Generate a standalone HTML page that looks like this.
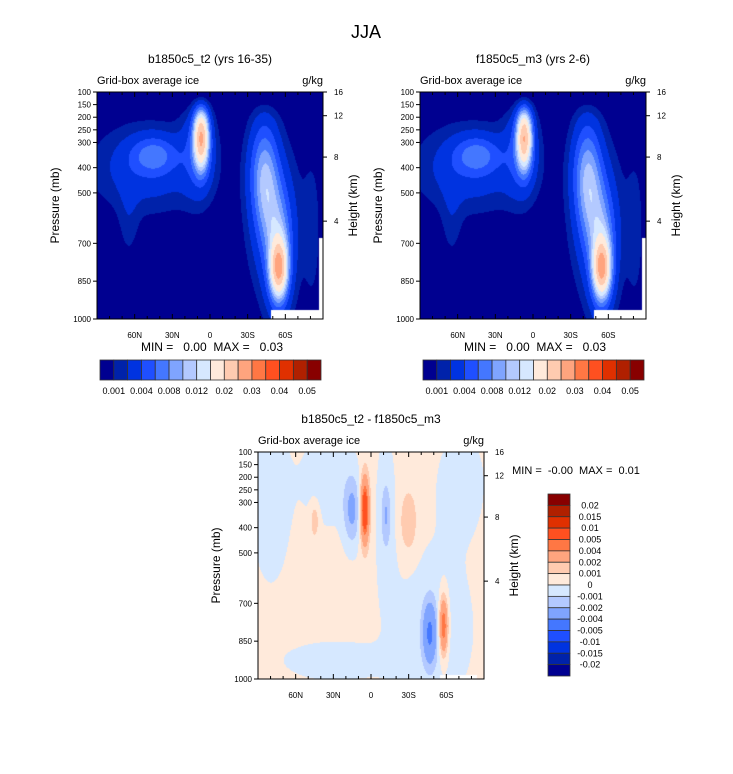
<!DOCTYPE html>
<html><head><meta charset="utf-8"><style>
body{margin:0;background:#fff;}
#wrap{position:relative;width:733px;height:774px;overflow:hidden;background:#fff;font-family:"Liberation Sans",sans-serif;}
canvas{position:absolute;}
svg{position:absolute;left:0;top:0;}
text{white-space:pre;}
</style></head><body>
<div id="wrap">
<canvas id="c1" width="226" height="227" style="left:97px;top:92px"></canvas>
<canvas id="c2" width="226" height="227" style="left:420px;top:92px"></canvas>
<canvas id="c3" width="226" height="227" style="left:258px;top:452px"></canvas>
<svg id="s" width="733" height="774"></svg>
</div>
<script>
// ---- data ----
const iceLevels=[0.001,0.002,0.004,0.006,0.008,0.01,0.012,0.015,0.02,0.025,0.03,0.035,0.04,0.045,0.05];
const iceLabels=["0.001","0.004","0.008","0.012","0.02","0.03","0.04","0.05"];
const iceColors=["#000090","#0022aa","#0033e0","#1f4fff","#4477ff","#7fa4ff","#b3c9ff","#d6e8ff","#ffeadb","#ffcbb0","#ffa47e","#ff7744","#ff5020","#e03000","#b02000","#880000"];
const diffLevels=[-0.02,-0.015,-0.01,-0.005,-0.004,-0.002,-0.001,0,0.001,0.002,0.004,0.005,0.01,0.015,0.02];
const diffLabels=["-0.02","-0.015","-0.01","-0.005","-0.004","-0.002","-0.001","0","0.001","0.002","0.004","0.005","0.01","0.015","0.02"];
const pTicks=[100,150,200,250,300,400,500,700,850,1000];
const hTicks=[4,8,12,16];
const hTickP=[612,358,194,100];
const latTicks=[60,30,0,-30,-60];
const latLabels=["60N","30N","0","30S","60S"];
// ice blobs: lat, p, amplitude(1e-3 g/kg), sigLat, sigP
const iceLat=[50,45,7,9,65,-40,-45,-55,-55,-52,-82];
const iceP=[400,350,280,330,620,400,480,800,720,620,650];
const iceAmp=[3.2,5,22,4,1.2,3,7,20,8,2.5,1.2];
const iceSL=[30,12,4,9,6,8,7,4.5,7,16,5];
const iceSP=[120,50,80,130,120,140,160,75,160,240,220];
const TOPTAPER=[100,230];
// diff blobs
const dLat=[80,35,-12,30,-50,-72,5,15,-12,45,-30,-47,-58];
const dP=[300,200,350,930,800,220,330,330,350,370,380,820,790];
const dAmp=[-0.9,-0.9,-0.9,-0.9,-0.9,-0.9,7,-2.6,-1.6,1.6,1.6,-4,5.5];
const dSL=[12,15,6,30,25,14,2.5,5,2.5,2.5,5,4,2.5];
const dSP=[250,150,250,60,250,150,90,100,80,50,90,90,80];
const DBASE=0.4;

function field(lat,p,L,P,A,SL,SP,base){let v=base;for(let i=0;i<L.length;i++){const a=(lat-L[i])/SL[i],b=(p-P[i])/SP[i];v+=A[i]*Math.exp(-0.5*(a*a+b*b));}return v*0.001;}
function taper(p){const t=Math.min(1,Math.max(0,(p-TOPTAPER[0])/(TOPTAPER[1]-TOPTAPER[0])));return t*(2-t);}
function lvl(v,levels){let k=0;while(k<levels.length&&v>=levels[k])k++;return k;}
function hex(c){return [parseInt(c.substr(1,2),16),parseInt(c.substr(3,2),16),parseInt(c.substr(5,2),16)];}
function drawField(id,L,P,A,SL,SP,base,levels,colors,mask,useTaper){
 const cv=document.getElementById(id),ctx=cv.getContext('2d'),W=cv.width,H=cv.height;
 const img=ctx.createImageData(W,H);const cols=colors.map(hex);
 for(let y=0;y<H;y++){const p=100+y/(H-1)*900;for(let x=0;x<W;x++){const lat=90-x/(W-1)*180;
  let c;if(mask(lat,p))c=[255,255,255];else{let v=field(lat,p,L,P,A,SL,SP,base);if(useTaper)v*=taper(p);c=cols[lvl(v,levels)];}
  const o=(y*W+x)*4;img.data[o]=c[0];img.data[o+1]=c[1];img.data[o+2]=c[2];img.data[o+3]=255;}}
 ctx.putImageData(img,0,0);}
const iceMask=(lat,p)=>(lat<-49&&p>965)||(lat<-87&&p>680);
drawField('c1',iceLat,iceP,iceAmp,iceSL,iceSP,0,iceLevels,iceColors,iceMask,true);
drawField('c2',iceLat,iceP,iceAmp.map((a,i)=>i==2?a*0.95:a),iceSL,iceSP,0,iceLevels,iceColors,iceMask,true);
const dcol=iceColors;
drawField('c3',dLat,dP,dAmp,dSL,dSP,DBASE,diffLevels,dcol,(lat,p)=>lat<-55&&lat>-85&&p>985,false);

// ---- axes ----
const S=document.getElementById('s');const NS="http://www.w3.org/2000/svg";
function el(t,a,txt){const e=document.createElementNS(NS,t);for(const k in a)e.setAttribute(k,a[k]);if(txt!==undefined)e.textContent=txt;S.appendChild(e);return e;}
function text(x,y,s,size,anchor,name,extra){const e=el('text',Object.assign({x:x,y:y,'font-size':size,'text-anchor':anchor||'start','font-family':'Liberation Sans, sans-serif',fill:'#000'},extra||{}),s);
 
 return e;}
function panel(L,T,W,H,title,pre){
 const xOf=lat=>L+(90-lat)/180*W, yOf=p=>T+(p-100)/900*H;
 const r=el('rect',{x:L,y:T,width:W,height:H,fill:'none',stroke:'#000','stroke-width':1});
 
 
 text(L+W/2,T-29,title,12,'middle',pre+'-title');
 text(L,T-8,'Grid-box average ice',11,'start',pre+'-variable-label');
 text(L+W,T-8,'g/kg',11,'end',pre+'-units-label');
 pTicks.forEach(p=>{const y=yOf(p);el('line',{x1:L-4,x2:L,y1:y,y2:y,stroke:'#000'});text(L-6,y+3,String(p),8,'end',pre+'-pressure-tick-label');});
 hTicks.forEach((h,i)=>{const y=yOf(hTickP[i]);el('line',{x1:L+W,x2:L+W+4,y1:y,y2:y,stroke:'#000'});text(L+W+11,y+3,String(h),8,'start',pre+'-height-tick-label');});
 for(let lat=80;lat>=-80;lat-=10){const x=xOf(lat);const len=lat%30==0?5:3;
  el('line',{x1:x,x2:x,y1:T+H,y2:T+H-len,stroke:'#000'});el('line',{x1:x,x2:x,y1:T,y2:T+len,stroke:'#000'});}
 latTicks.forEach((lat,i)=>text(xOf(lat),T+H+19,latLabels[i],8,'middle',pre+'-lat-tick-label'));
 text(0,0,'Pressure (mb)',12,'middle',pre+'-y-axis-title',{transform:`translate(${L-38},${T+H/2}) rotate(-90)`});
 text(0,0,'Height (km)',12,'middle',pre+'-right-axis-title',{transform:`translate(${L+W+34},${T+H/2}) rotate(-90)`});
}
text(366,38,'JJA',18,'middle','figure-title');
panel(97,92,226,227,'b1850c5_t2 (yrs 16-35)','left');
panel(420,92,226,227,'f1850c5_m3 (yrs 2-6)','right');
panel(258,452,226,227,'b1850c5_t2 - f1850c5_m3','diff');
text(212,351,'MIN =   0.00  MAX =   0.03',12,'middle','left-minmax');
text(535,351,'MIN =   0.00  MAX =   0.03',12,'middle','right-minmax');
text(576,474,'MIN =  -0.00  MAX =  0.01',11,'middle','diff-minmax');
function hbar(x0,pre){const w=221/16;
 iceColors.forEach((c,i)=>{const r=el('rect',{x:x0+i*w,y:360,width:w,height:20,fill:c,stroke:'#333','stroke-width':0.8});
  
  });
 iceLabels.forEach((s,i)=>text(x0+(2*i+1)*w,394,s,9,'middle',pre+'-colorbar-label'));}
hbar(100,'left');hbar(423,'right');
const vh=182/16;
dcol.slice().reverse().forEach((c,i)=>{const r=el('rect',{x:548,y:494+i*vh,width:22,height:vh,fill:c,stroke:'#333','stroke-width':0.8});
 
 });
diffLabels.slice().reverse().forEach((s,i)=>text(590,494+(i+1)*vh+3,s,9,'middle','diff-colorbar-label'));
</script>
</body></html>
